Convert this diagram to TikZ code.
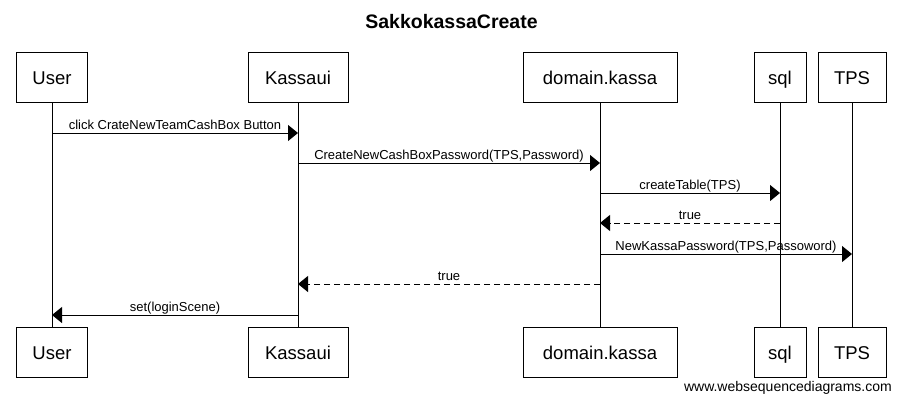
\documentclass[tikz,border=0pt]{standalone}
\usepackage{fontspec}
\setmainfont{Liberation Sans}
\usetikzlibrary{arrows.meta}
\begin{document}
\begin{tikzpicture}[x=1pt,y=-1pt,
  actor/.style={draw=black, line width=1pt, minimum height=50pt, inner sep=0pt, text height=14pt, text depth=0pt, font=\fontsize{18.5}{20}\selectfont},
  life/.style={line width=1pt},
  msg/.style={line width=1pt, -{Triangle[length=10pt,width=16pt]}},
  ret/.style={msg, dash pattern=on 6pt off 4pt},
  lbl/.style={font=\fontsize{13}{15}\selectfont, anchor=base, inner sep=0pt, midway, yshift=4pt}
]
\useasboundingbox (0,0) rectangle (901,401);
\node[font=\bfseries\fontsize{19.5}{22}\selectfont, anchor=base, inner sep=0pt] (title) at (451.5,28.5) {SakkokassaCreate};

\node[actor, minimum width=71pt]  (userT) at (52,78) {User};
\node[actor, minimum width=100pt] (kasT)  at (298,78) {Kassaui};
\node[actor, minimum width=154pt] (domT)  at (600,78) {domain.kassa};
\node[actor, minimum width=52pt]  (sqlT)  at (780,78) {sql};
\node[actor, minimum width=68pt]  (tpsT)  at (852,78) {TPS};

\node[actor, minimum width=71pt]  (userB) at (52,352.5) {User};
\node[actor, minimum width=100pt] (kasB)  at (298,352.5) {Kassaui};
\node[actor, minimum width=154pt] (domB)  at (600,352.5) {domain.kassa};
\node[actor, minimum width=52pt]  (sqlB)  at (780,352.5) {sql};
\node[actor, minimum width=68pt]  (tpsB)  at (852,352.5) {TPS};

\draw[life] (userT.south) -- (userB.north);
\draw[life] (kasT.south) -- (kasB.north);
\draw[life] (domT.south) -- (domB.north);
\draw[life] (sqlT.south) -- (sqlB.north);
\draw[life] (tpsT.south) -- (tpsB.north);

\coordinate (m1a) at (52,133);  \coordinate (m1b) at (298,133);
\coordinate (m2a) at (298,163); \coordinate (m2b) at (600,163);
\coordinate (m3a) at (600,193); \coordinate (m3b) at (780,193);
\coordinate (m4a) at (780,223); \coordinate (m4b) at (600,223);
\coordinate (m5a) at (600,254); \coordinate (m5b) at (852,254);
\coordinate (m6a) at (600,284); \coordinate (m6b) at (298,284);
\coordinate (m7a) at (298,315); \coordinate (m7b) at (52,315);

\draw[msg] (m1a) -- (m1b) node[lbl] {click CrateNewTeamCashBox Button};
\draw[msg] (m2a) -- (m2b) node[lbl] {CreateNewCashBoxPassword(TPS,Password)};
\draw[msg] (m3a) -- (m3b) node[lbl] {createTable(TPS)};
\draw[ret] (m4a) -- (m4b) node[lbl] {true};
\draw[msg] (m5a) -- (m5b) node[lbl] {NewKassaPassword(TPS,Passoword)};
\draw[ret] (m6a) -- (m6b) node[lbl] {true};
\draw[msg] (m7a) -- (m7b) node[lbl] {set(loginScene)};

\node[font=\fontsize{14}{16}\selectfont, anchor=base east, inner sep=0pt] (footer) at (892,391) {www.websequencediagrams.com};
\end{tikzpicture}
\end{document}
